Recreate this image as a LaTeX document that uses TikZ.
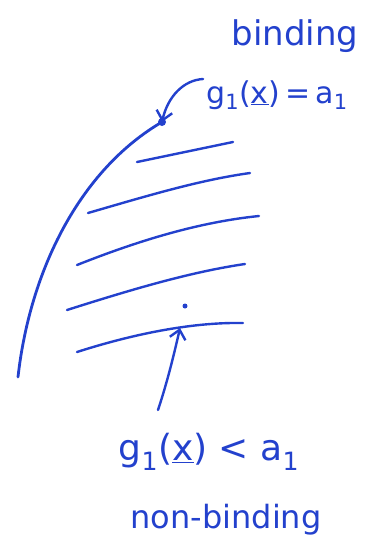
\documentclass[tikz,border=0pt]{standalone}
\usepackage{fontspec}
\setmainfont{DejaVu Sans}
\usetikzlibrary{arrows.meta}
\definecolor{ink}{RGB}{35,65,205}
\begin{document}
\begin{tikzpicture}[x=1pt,y=-1pt,
  pen/.style={ink,line width=2.8pt,line cap=round},
  hatch/.style={ink,line width=2.4pt,line cap=round},
  lbl/.style={ink,inner sep=0pt,font=\fontsize{34}{40}\selectfont},
  barb/.style={-{Straight Barb[length=9pt,width=16pt,line width=2.4pt]}}]
\useasboundingbox (0,0) rectangle (374,547);
% boundary curve
\draw[pen] (18,377) .. controls (30,270) and (80,170) .. (162,122);
\coordinate (p) at (162,122);
\fill[ink] (p) circle (4);
% hatching
\draw[hatch] (137,162) -- (233,142);
\draw[hatch] (88,213) .. controls (150,195) and (200,180) .. (250,173);
\draw[hatch] (77,265) .. controls (140,240) and (200,222) .. (259,216);
\draw[hatch] (67,310) .. controls (130,290) and (190,272) .. (245,264);
\draw[hatch] (77,352) .. controls (130,335) and (190,322) .. (243,323);
\coordinate (q) at (180,328);
\fill[ink] (185,306) circle (2.5);
% labels
\node[lbl] (bind) at (295,36) {binding};
\node[lbl,font=\fontsize{30}{36}\selectfont] (eq) at (277,95) {g\textsubscript{1}(\underline{x})\,=\,a\textsubscript{1}};
\node[lbl,font=\fontsize{36}{42}\selectfont] (lt) at (209,452) {g\textsubscript{1}(\underline{x}) < a\textsubscript{1}};
\node[lbl,font=\fontsize{32}{38}\selectfont] (nb) at (226,520) {non-binding};
% arrows
\coordinate (s) at ([xshift=-3pt,yshift=16pt]eq.west);
\draw[hatch,barb] (s) .. controls (184,80) and (168,96) .. (p);
\draw[hatch,barb] (158,410) .. controls (168,380) and (175,350) .. (q);
\end{tikzpicture}
\end{document}
